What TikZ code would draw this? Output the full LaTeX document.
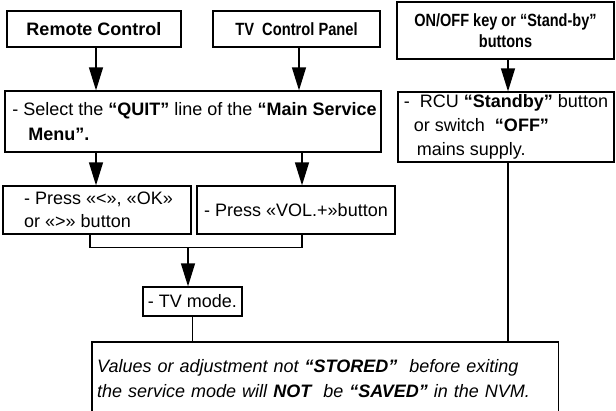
\documentclass[tikz,border=0pt]{standalone}
\usepackage{fontspec}
\setmainfont{Liberation Sans}
\usepackage{graphicx}
\usetikzlibrary{arrows.meta}
\begin{document}
\begin{tikzpicture}[x=1pt,y=-1pt,
  box/.style={draw, line width=1.3pt, inner sep=0pt, align=left, font=\fontsize{18}{24}\selectfont},
  titlefont/.style={font=\bfseries\fontsize{17.7}{21}\selectfont},
  arr/.style={line width=1.3pt, -{Triangle[length=23pt,width=14pt]}},
  ln/.style={line width=1.3pt}]
\useasboundingbox (0,0) rectangle (616,410);

% top row
\node[box, minimum width=174pt, minimum height=36pt, font=\bfseries\fontsize{18}{22}\selectfont] (rc) at (94,29) {Remote Control};
\node[box, minimum width=167pt, minimum height=36pt, titlefont] (tvp) at (296.5,29) {\scalebox{0.83}[1]{TV\ \ Control Panel}};
\node[box, minimum width=217pt, minimum height=57pt, align=center, titlefont] (onoff) at (505.5,30.5) {\scalebox{0.82}[1]{ON/OFF key or “Stand-by”}\\\scalebox{0.82}[1]{buttons}};

% second row
\node[box, minimum width=376pt, minimum height=61pt, font=\fontsize{18}{25}\selectfont] (main) at (193,121.5) {\hspace*{3pt}- Select the \textbf{“QUIT”} line of the \textbf{“Main Service}\\\hspace*{19pt}\textbf{Menu”.}};
\node[box, minimum width=216pt, minimum height=70pt] (rcu) at (506,127) {-\ \ RCU \textbf{“Standby”} button\\\hspace*{10pt}or switch\ \ \textbf{“OFF”}\\\hspace*{13pt}mains supply.};

% third row
\node[box, minimum width=188pt, minimum height=48pt, font=\fontsize{18}{23}\selectfont] (press1) at (97,210) {\hspace*{3pt}- Press «<», «OK»\\\hspace*{3pt}or «>» button};
\node[box, minimum width=198pt, minimum height=48pt] (press2) at (296,210) {- Press «VOL.+»button};

% tv mode
\node[box, minimum width=99pt, minimum height=29pt] (tvmode) at (192.5,301.5) {- TV mode.};

% note (open at the bottom)
\node[draw=none, inner xsep=5pt, inner ysep=0pt, minimum width=466pt, minimum height=73pt, text width=456pt, align=left, anchor=north west, font=\itshape\fontsize{18}{25}\selectfont] (note) at (92,342) {Values or adjustment not \textbf{“STORED”}\ \ before exiting\\the service mode will \textbf{NOT}\ \ be \textbf{“SAVED”} in the NVM.};
\draw[ln] (note.south west) -- (note.north west) -- (note.north east) -- (note.south east);

% connectors
\draw[arr] ([xshift=2pt]rc.south) -- ([xshift=2pt]rc.south |- main.north);
\draw[arr] ([xshift=2.5pt]tvp.south) -- ([xshift=2.5pt]tvp.south |- main.north);
\draw[arr] ([xshift=2.5pt]onoff.south) -- ([xshift=2.5pt]onoff.south |- rcu.north);
\draw[arr] ([xshift=-1pt]press1.north |- main.south) -- ([xshift=-1pt]press1.north);
\draw[arr] ([xshift=6pt]press2.north |- main.south) -- ([xshift=6pt]press2.north);

\coordinate (j1) at ([xshift=-7pt]press1.south);
\coordinate (j2) at ([xshift=6pt]press2.south);
\draw[ln] (j1) -- ++(0,13) -| (j2);
\coordinate (mrg) at ([xshift=-4.5pt,yshift=-13pt]tvmode.north |- press1.south);
\draw[arr] (mrg) -- (mrg |- tvmode.north);

\draw[ln] (tvmode.south) -- (tvmode.south |- note.north);
\draw[ln] ([xshift=2pt]rcu.south) -- ([xshift=2pt]rcu.south |- note.north);
\end{tikzpicture}
\end{document}
